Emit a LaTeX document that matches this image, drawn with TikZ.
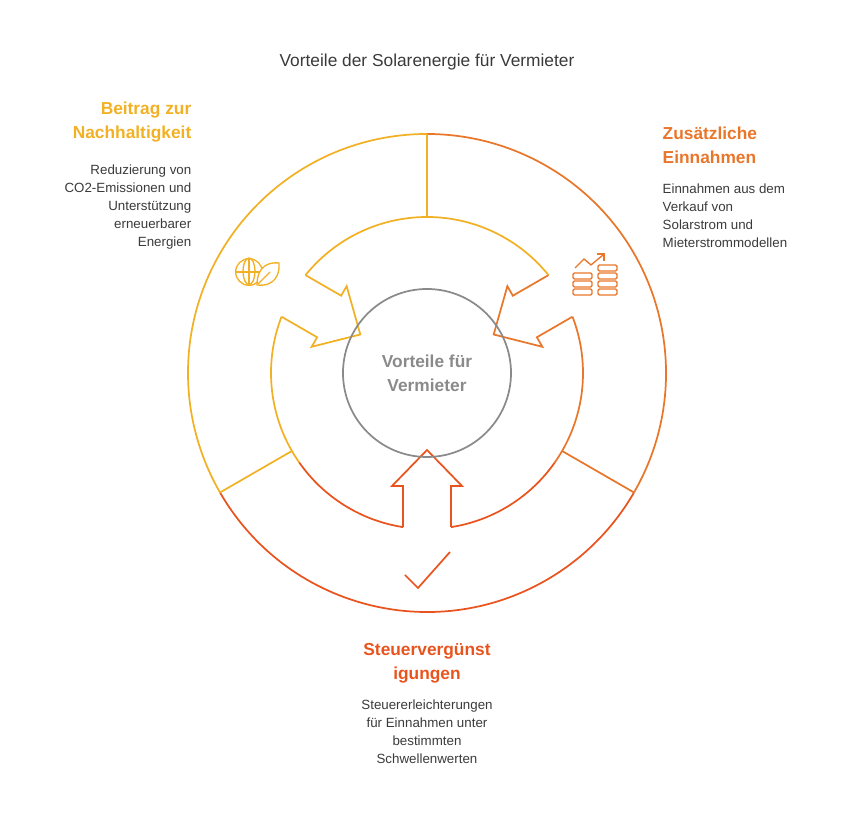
\documentclass[tikz,border=0pt]{standalone}
\usepackage{fontspec}
\setmainfont{Liberation Sans}
\definecolor{gelb}{HTML}{F2B124}
\definecolor{orange}{HTML}{E8762B}
\definecolor{rot}{HTML}{E9541E}
\definecolor{grau}{HTML}{8A8A8A}
\definecolor{text}{HTML}{3A3A3A}
\tikzset{%
  ring/.style   = {line width=1.3pt},%
  titel/.style  = {font=\bfseries\fontsize{13}{18}\selectfont, align=center},%
  info/.style   = {font=\fontsize{10}{13.5}\selectfont, text=text},%
  pfeil/.style  = {ring, line join=miter}%
}
\begin{document}
\begin{tikzpicture}[x=0.75pt,y=0.75pt]
	\useasboundingbox (0,0) rectangle (854,830);
	\coordinate (m) at (427,457);
	% aeusserer Ring
	\draw[ring,gelb] (m) ++(90:239) arc (90:210:239);
	\draw[ring,rot] (m) ++(210:239) arc (210:330:239);
	\draw[ring,orange] (m) ++(330:239) arc (330:450:239);
	\draw[ring,gelb] (m) ++(90:239) -- ++(90:-83);
	\draw[ring,gelb] (m) ++(210:239) -- ++(210:-83);
	\draw[ring,orange] (m) ++(330:239) -- ++(330:-83);
	% innerer Ring mit Pfeilen
	\foreach \w/\f in {150/gelb, 30/orange, 270/rot}{
		\begin{scope}[shift={(m)},rotate=\w-90]
			\draw[pfeil,\f] (24,154.1) -- (24,113) -- (35,113) -- (0,77) -- (-35,113) -- (-24,113) -- (-24,154.1);
		\end{scope}
	}
	\draw[ring,gelb] (m) ++(38.85:156) arc (38.85:141.15:156);
	\draw[ring,gelb] (m) ++(158.85:156) arc (158.85:215:156);
	\draw[ring,rot] (m) ++(215:156) arc (215:261.15:156);
	\draw[ring,rot] (m) ++(278.85:156) arc (278.85:325:156);
	\draw[ring,orange] (m) ++(325:156) arc (325:381.15:156);
	% Mitte
	\node[circle, draw=grau, ring, minimum size=126pt] (mitte) at (m) {};
	\node[titel, text=grau] (mtext) at (m) {Vorteile für\\Vermieter};
	% Texte
	\node[font=\fontsize{13}{15}\selectfont, text=text] (kopf) at (427,768) {Vorteile der Solarenergie für Vermieter};
	\node[titel, text=gelb, align=right, anchor=north east] (t1) at (196,733) {Beitrag zur\\Nachhaltigkeit};
	\node[info, align=right, anchor=north east] (d1) at (196,670) {Reduzierung von\\CO2-Emissionen und\\Unterstützung\\erneuerbarer\\Energien};
	\node[titel, text=orange, align=left, anchor=north west] (t2) at (658,708) {Zusätzliche\\Einnahmen};
	\node[info, align=left, anchor=north west] (d2) at (658,651) {Einnahmen aus dem\\Verkauf von\\Solarstrom und\\Mieterstrommodellen};
	\node[titel, text=rot, anchor=north] (t3) at (427,191) {Steuervergünst\\igungen};
	\node[info, align=center, anchor=north] (d3) at (427,135) {Steuererleichterungen\\für Einnahmen unter\\bestimmten\\Schwellenwerten};
	% Symbole
	\begin{scope}[gelb, line width=1pt]
		\node[circle, draw, minimum size=20pt, inner sep=0pt] (globus) at (249,558) {};
		\draw (globus.north) arc (90:270:6 and 13.3);
		\draw (globus.north) arc (90:-90:6 and 13.3);
		\draw (globus.west) -- (globus.east);
		\draw (globus.north) -- (globus.south);
		\draw[fill=white] (257,545) .. controls (257,565) and (270,568) .. (279,567) .. controls (280,556) and (275,543) .. (257,545) -- cycle;
		\draw (258,546) -- (270,558);
	\end{scope}
	\begin{scope}[orange, line width=1pt]
		\foreach \y in {535,543,551}{
			\draw[rounded corners=1pt] (573,\y) rectangle (592,\y+6);
			\draw[rounded corners=1pt] (598,\y) rectangle (617,\y+6);
		}
		\draw[rounded corners=1pt] (598,559) rectangle (617,565);
		\draw (575,562) -- (584,571) -- (591,565) -- (603,575);
		\draw (597,576) -- (604,576) -- (604,569);
	\end{scope}
	\begin{scope}[rot, line width=1.3pt]
		\draw (405,255) -- (418,242) -- (450,278);
	\end{scope}
\end{tikzpicture}
\end{document}
